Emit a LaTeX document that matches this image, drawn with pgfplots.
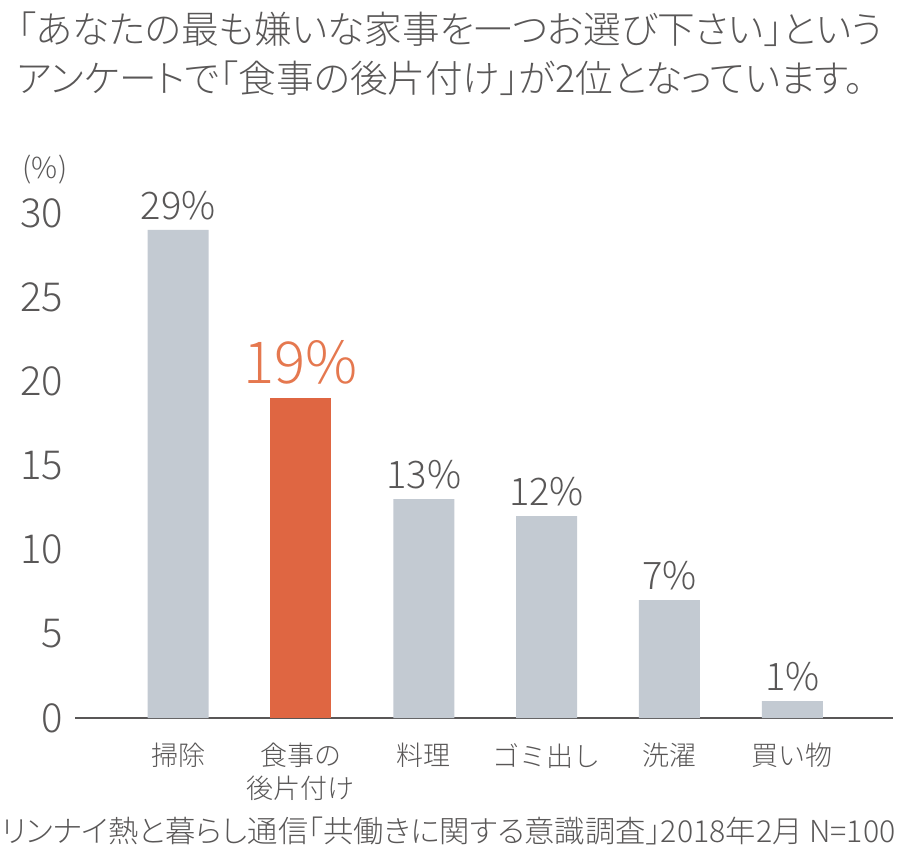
\documentclass[border=0pt]{standalone}
\usepackage{pgfplots}
\pgfplotsset{compat=1.18}
\usepackage{fontspec}
\IfFontExistsTF{Noto Sans CJK JP Light}{%
  \setmainfont{Noto Sans CJK JP Light}%
  \newfontfamily\paltfont[RawFeature=+palt]{Noto Sans CJK JP Light}%
}{%
  \setmainfont{Noto Sans CJK JP}%
  \newfontfamily\paltfont[RawFeature=+palt]{Noto Sans CJK JP}%
}
\definecolor{textgray}{HTML}{595757}
\definecolor{bargray}{HTML}{C3CAD2}
\definecolor{barorange}{HTML}{DF6642}
\definecolor{labelorange}{HTML}{E5784F}
\begin{document}
\begin{tikzpicture}[x=1pt,y=1pt]
\useasboundingbox (0,0) rectangle (902,849);
\node[anchor=base west, inner sep=0pt, text height=31pt, text depth=5pt, text=textgray, font=\paltfont\fontsize{37.6}{38}\selectfont] at (17,805) {「あなたの最も嫌いな家事を一つお選び下さい」という};
\node[anchor=base west, inner sep=0pt, text height=31pt, text depth=5pt, text=textgray, font=\paltfont\fontsize{37.6}{38}\selectfont] at (17,756) {アンケートで「食事の後片付け」が2位となっています。};
\node[anchor=base west, inner sep=0pt, text height=25pt, text depth=4pt, text=textgray, font=\paltfont\fontsize{30.3}{30}\selectfont] at (1,7) {リンナイ熱と暮らし通信「共働きに関する意識調査」2018年2月 N=100};
\node[inner sep=0pt, text=textgray, font=\fontsize{29}{29}\selectfont] at (45,679) {(\%)};
\begin{axis}[
  at={(75pt,131pt)}, anchor=south west,
  scale only axis, width=818pt, height=505pt,
  xmin=-0.839, xmax=5.82, ymin=0, ymax=30,
  axis x line*=bottom, axis y line*=left,
  y axis line style={draw=none},
  x axis line style={draw=textgray, line width=2pt, -},
  major tick length=0pt,
  tick style={draw=none},
  xtick={0,1,2,3,4,5},
  xticklabels={掃除,{食事の\\後片付け},料理,ゴミ出し,洗濯,買い物},
  xticklabel style={align=center, font=\fontsize{27}{33}\selectfont, text=textgray, anchor=north, inner sep=0pt, yshift=-25pt},
  ytick={0,5,10,15,20,25,30},
  yticklabel style={font=\fontsize{40}{40}\selectfont, text=textgray, anchor=east, inner sep=0pt, xshift=-12pt},
  /pgf/number format/assume math mode=true,
  ybar, bar width=61pt,
  clip=false,
  nodes near coords={\pgfmathprintnumber{\pgfplotspointmeta}\%},
]
\addplot[fill=bargray, draw=none, bar shift=0pt,
  every node near coord/.append style={font=\fontsize{38}{38}\selectfont, text=textgray, inner sep=0pt, yshift=10pt}]
  coordinates {(0,29) (2,13) (3,12) (4,7) (5,1)};
\addplot[fill=barorange, draw=none, bar shift=0pt,
  every node near coord/.append style={font=\fontsize{58}{58}\selectfont, text=labelorange, inner sep=0pt, yshift=14pt}]
  coordinates {(1,19)};
\end{axis}
\end{tikzpicture}
\end{document}
